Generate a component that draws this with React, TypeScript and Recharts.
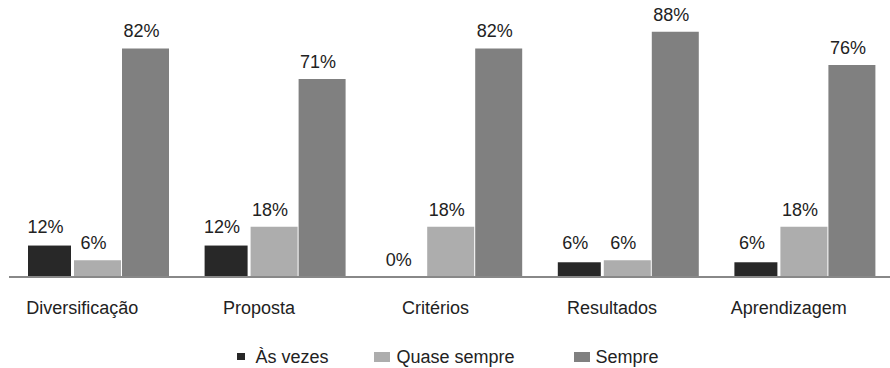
import React from 'react';
import { BarChart, Bar, XAxis, YAxis, LabelList, Legend } from 'recharts';

const categories = ['Diversificação', 'Proposta', 'Critérios', 'Resultados', 'Aprendizagem'];
const asVezes = [12, 12, 0, 6, 6];
const quaseSempre = [6, 18, 18, 6, 18];
const sempre = [82, 71, 82, 88, 76];
const seriesNames = ['Às vezes', 'Quase sempre', 'Sempre'];
const seriesKeys = ['asVezes', 'quaseSempre', 'sempre'];

const FONT = '"Liberation Sans", Arial, Helvetica, sans-serif';
const COLORS = ['#282828', '#adadad', '#808080'];
const INSET = [true, false, false];
const LEGEND_GAPS = [46, 59, 0];

const data = categories.map((c, i) => ({
  category: c,
  asVezes: asVezes[i],
  quaseSempre: quaseSempre[i],
  sempre: sempre[i],
}));

const renderLabel = (props: any) => {
  const vb = props.viewBox && props.viewBox.x !== undefined ? props.viewBox : props;
  const { x, y, width } = vb;
  return (
    <text
      x={x + width / 2 - 4}
      y={y - 11}
      textAnchor="middle"
      fill="#222"
      fontSize={18}
      fontFamily={FONT}
    >
      {props.value}%
    </text>
  );
};

const InsetBar = (props: any) => {
  const { x, y, width, height, fill } = props;
  if (!height || height <= 0) return <g />;
  return <rect x={x + 2} y={y + 2} width={Math.max(width - 4, 0)} height={Math.max(height - 2, 0)} fill={fill} />;
};

const CategoryTick = (props: any) => {
  const { x, y, payload } = props;
  return (
    <text x={x - 15} y={y + 37} textAnchor="middle" fill="#222" fontSize={18} fontFamily={FONT}>
      {payload.value}
    </text>
  );
};

const LegendContent = () => (
  <div
    style={{
      display: 'flex',
      justifyContent: 'center',
      alignItems: 'center',
      height: 30,
      paddingTop: 7,
      paddingRight: 9,
      boxSizing: 'border-box',
      fontFamily: FONT,
      fontSize: 18,
      lineHeight: '20px',
      color: '#222',
    }}
  >
    {seriesNames.map((name, i) => (
      <div key={name} style={{ display: 'flex', alignItems: 'center', marginRight: LEGEND_GAPS[i] }}>
        <span
          style={{
            width: 16,
            height: 10,
            display: 'flex',
            alignItems: 'center',
            justifyContent: 'center',
            marginRight: 6,
          }}
        >
          <span
            style={{
              display: 'block',
              width: INSET[i] ? 8 : 16,
              height: INSET[i] ? 7 : 10,
              background: COLORS[i],
            }}
          />
        </span>
        <span style={{ whiteSpace: 'pre' }}>{name}</span>
      </div>
    ))}
  </div>
);

export default function App() {
  return (
    <div
      style={{
        position: 'absolute',
        left: 0,
        top: 0,
        width: 890,
        height: 368,
        overflow: 'hidden',
        background: '#fff',
      }}
    >
      <BarChart
        width={893}
        height={368}
        data={data}
        margin={{ top: 1, right: 1, bottom: 0, left: 9 }}
        barSize={47}
        barGap={1}
      >
        <XAxis
          dataKey="category"
          height={61}
          tickSize={0}
          tickMargin={0}
          tickLine={false}
          axisLine={{ stroke: '#888888', strokeWidth: 2 }}
          tick={<CategoryTick />}
          interval={0}
        />
        <YAxis hide domain={[0, 99]} />
        <Legend verticalAlign="bottom" height={30} content={LegendContent} />
        {seriesKeys.map((k, i) => (
          <Bar
            key={k}
            dataKey={k}
            name={seriesNames[i]}
            fill={COLORS[i]}
            isAnimationActive={false}
            shape={INSET[i] ? <InsetBar /> : undefined}
          >
            <LabelList dataKey={k} content={renderLabel} />
          </Bar>
        ))}
      </BarChart>
    </div>
  );
}
